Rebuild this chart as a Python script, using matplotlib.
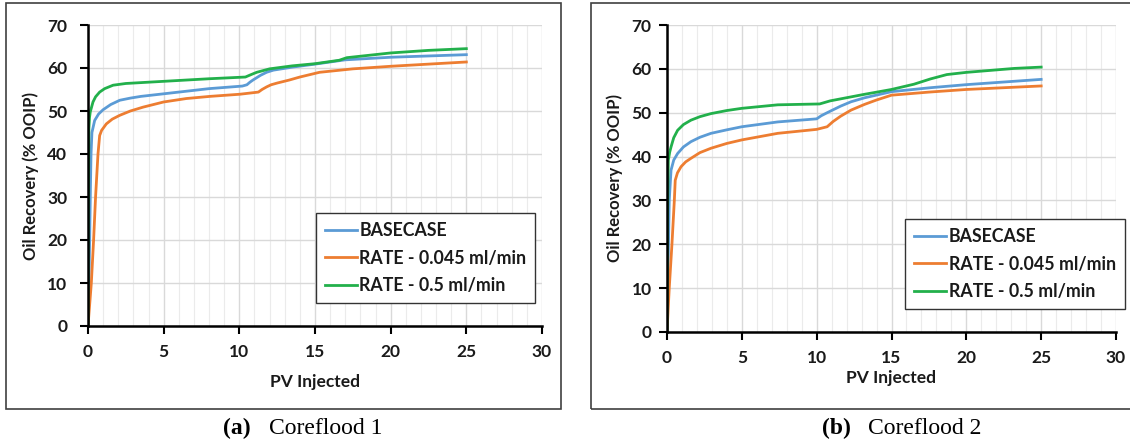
import matplotlib
matplotlib.use("Agg")
import matplotlib.pyplot as plt
from matplotlib.patches import Rectangle
from matplotlib.ticker import MultipleLocator

# ---- data ----
labels = ["BASECASE", "RATE - 0.045 ml/min", "RATE - 0.5 ml/min"]
colors = ["#5B9BD5", "#ED7D31", "#22B04B"]

# Coreflood 1
c1_base_x = [0, 0.05, 0.11, 0.16, 0.2, 0.26, 0.44, 0.7, 1.0, 1.5, 2.1, 2.8, 3.5, 5.0, 8.0, 10.2, 10.5, 10.7, 10.9, 11.4, 11.8, 12.25, 13.5, 15.0, 17.0, 20.0, 22.5, 25.0]
c1_base_y = [0, 8, 20, 32, 40, 45, 47.8, 49.3, 50.3, 51.5, 52.5, 53.0, 53.4, 54.0, 55.2, 55.8, 56.1, 56.7, 57.2, 58.3, 59.0, 59.5, 60.2, 60.9, 61.9, 62.5, 62.8, 63.1]
c1_slow_x = [0, 0.22, 0.37, 0.5, 0.66, 0.77, 0.9, 1.21, 1.6, 2.1, 2.8, 3.64, 5.0, 6.5, 8.06, 10.04, 11.26, 11.5, 11.8, 12.1, 12.5, 13.3, 14.0, 15.3, 17.5, 20.0, 22.5, 25.0]
c1_slow_y = [0, 10, 20, 30, 40, 44.3, 45.5, 47.0, 48.1, 49.0, 50.0, 50.9, 52.1, 52.9, 53.4, 53.9, 54.4, 55.0, 55.6, 56.1, 56.5, 57.2, 57.9, 59.0, 59.8, 60.4, 60.9, 61.4]
c1_fast_x = [0, 0.02, 0.06, 0.1, 0.15, 0.33, 0.5, 0.77, 1.1, 1.66, 2.5, 5.0, 8.0, 10.4, 10.8, 11.15, 12.0, 13.5, 15.0, 16.6, 17.1, 20.0, 22.5, 25.0]
c1_fast_y = [0, 25, 46, 48.5, 49.8, 52.1, 53.3, 54.4, 55.2, 56.0, 56.4, 56.9, 57.5, 57.9, 58.5, 59.0, 59.8, 60.5, 61.0, 61.8, 62.4, 63.5, 64.1, 64.5]

# Coreflood 2
c2_base_x = [0, 0.04, 0.1, 0.15, 0.27, 0.45, 0.71, 1.1, 1.6, 2.2, 2.94, 4.0, 5.0, 7.4, 10.0, 10.3, 10.7, 11.6, 12.3, 13.2, 15.0, 17.6, 20.0, 22.5, 25.0]
c2_base_y = [0, 10, 20, 30, 36.9, 39.2, 40.7, 42.2, 43.4, 44.4, 45.3, 46.1, 46.8, 47.9, 48.6, 49.3, 50.0, 51.5, 52.5, 53.4, 54.8, 55.7, 56.4, 57.0, 57.6]
c2_slow_x = [0, 0.15, 0.33, 0.49, 0.55, 0.7, 0.94, 1.25, 1.6, 2.2, 2.94, 4.0, 5.0, 7.4, 10.0, 10.7, 11.1, 11.6, 12.3, 13.2, 14.0, 15.0, 17.5, 20.0, 22.5, 25.0]
c2_slow_y = [0, 10, 20, 30, 34.6, 36.3, 37.7, 38.8, 39.6, 40.9, 41.9, 43.0, 43.8, 45.3, 46.2, 46.8, 48.0, 49.2, 50.6, 51.9, 52.9, 54.0, 54.7, 55.3, 55.7, 56.1]
c2_fast_x = [0, 0.03, 0.09, 0.18, 0.27, 0.45, 0.71, 1.1, 1.6, 2.2, 2.94, 4.0, 5.0, 7.4, 10.2, 10.9, 13.2, 15.0, 16.5, 17.6, 18.7, 20.0, 23.2, 25.0]
c2_fast_y = [0, 25, 39.2, 41.0, 42.2, 44.3, 46.0, 47.3, 48.3, 49.1, 49.8, 50.5, 51.0, 51.8, 52.0, 52.7, 54.2, 55.3, 56.5, 57.7, 58.7, 59.2, 60.1, 60.4]

xlabel = "PV Injected"
ylabel = "Oil Recovery (% OOIP)"

plt.rcParams['font.family'] = ['Lato', 'DejaVu Sans']

fig = plt.figure(figsize=(11.3, 4.42), dpi=100)

# boxes around each panel
fig.patches.append(Rectangle((6/1130, 1-409/442), 555/1130, 406/442, transform=fig.transFigure,
                             fill=False, edgecolor="#404040", lw=1.2))
fig.patches.append(Rectangle((591/1130, 1-409/442), 560/1130, 406/442, transform=fig.transFigure,
                             fill=False, edgecolor="#404040", lw=1.2))

ax1 = fig.add_axes([88/1130, 1-326/442, 454/1130, 301/442])
ax2 = fig.add_axes([667/1130, 1-332/442, 449/1130, 307/442])

panels = [
    (ax1, [(c1_base_x, c1_base_y), (c1_slow_x, c1_slow_y), (c1_fast_x, c1_fast_y)], (0.502, 0.375), 10, 9),
    (ax2, [(c2_base_x, c2_base_y), (c2_slow_x, c2_slow_y), (c2_fast_x, c2_fast_y)], (0.530, 0.368), 3, 5),
]

for ax, series, leg_anchor, xpad, ypad in panels:
    for (x, y), lab, col in zip(series, labels, colors):
        ax.plot(x, y, color=col, lw=2.0, label=lab, solid_joinstyle="round")
    ax.set_xlim(0, 30)
    ax.set_ylim(0, 70)
    ax.xaxis.set_major_locator(MultipleLocator(5))
    ax.xaxis.set_minor_locator(MultipleLocator(1))
    ax.yaxis.set_major_locator(MultipleLocator(10))
    ax.grid(which="major", color="#D9D9D9", lw=1.0)
    ax.grid(which="minor", axis="x", color="#EBEBEB", lw=0.8)
    ax.set_axisbelow(True)
    for s in ["top", "right"]:
        ax.spines[s].set_visible(False)
    for s in ["left", "bottom"]:
        ax.spines[s].set_linewidth(1.8)
        ax.spines[s].set_color("black")
    ax.tick_params(which="major", direction="out", length=6, width=1.5, color="black",
                   labelsize=12.5, pad=7)
    ax.tick_params(axis="y", pad=ypad)
    ax.tick_params(which="minor", length=0)
    for t in ax.get_xticklabels() + ax.get_yticklabels():
        t.set_fontweight("bold")
        t.set_color("#1a1a1a")
    ax.set_xlabel(xlabel, fontsize=12.5, fontweight="bold", color="#1a1a1a", labelpad=xpad)
    ax.set_ylabel(ylabel, fontsize=12, fontweight="bold", color="#1a1a1a", labelpad=6)
    leg = ax.legend(loc="upper left", bbox_to_anchor=leg_anchor, borderaxespad=0,
                    prop={"weight": "bold", "size": 12.8}, handlelength=1.8, handletextpad=0.15,
                    labelspacing=0.6, fancybox=False, framealpha=1, edgecolor="#333333",
                    borderpad=0.5)
    leg.get_frame().set_linewidth(1.0)
    for txt in leg.get_texts():
        txt.set_color("#1a1a1a")

# captions below the panels
cap = dict(family="Liberation Serif", fontsize=17, va="center")
fig.text(223/1130, 1-428/442, "(a)", fontweight="bold", **cap)
fig.text(269/1130, 1-428/442, "Coreflood 1", **cap)
fig.text(822/1130, 1-428/442, "(b)", fontweight="bold", **cap)
fig.text(868/1130, 1-428/442, "Coreflood 2", **cap)

fig.savefig("out.png", dpi=100)
